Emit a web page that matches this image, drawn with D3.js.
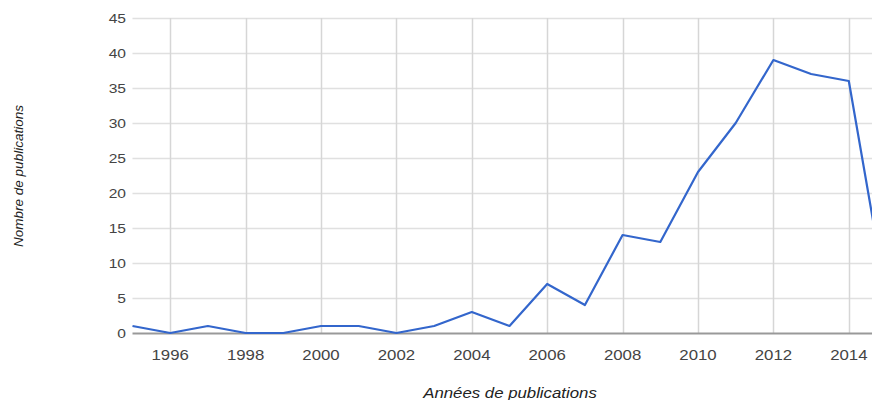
<!DOCTYPE html>
<html>
<head>
<meta charset="utf-8">
<script src="https://cdn.jsdelivr.net/npm/d3@7"></script>
<style>
  body { margin: 0; background: #fff; }
  svg { display: block; font-family: Arial, "Liberation Sans", sans-serif; }
</style>
</head>
<body>
<div id="chart"></div>
<script>
var years = [1995, 1996, 1997, 1998, 1999, 2000, 2001, 2002, 2003, 2004, 2005,
             2006, 2007, 2008, 2009, 2010, 2011, 2012, 2013, 2014, 2015];
var publications = [1, 0, 1, 0, 0, 1, 1, 0, 1, 3, 1,
                    7, 4, 14, 13, 23, 30, 39, 37, 36, 5];
var xTicks = [1996, 1998, 2000, 2002, 2004, 2006, 2008, 2010, 2012, 2014];
var yTicks = [0, 5, 10, 15, 20, 25, 30, 35, 40, 45];

var w = 872, h = 400;
var stretch = 1.2; // the source image is a bit wider than tall

// plot runs past the right edge, like the cropped original
var x = d3.scaleLinear().domain([1995, 2015]).range([132.5, 886.5]);
var y = d3.scaleLinear().domain([0, 45]).range([333, 18]);

var svg = d3.select("#chart")
  .append("svg")
  .attr("width", w)
  .attr("height", h)

// horizontal grid
svg.append("g")
  .selectAll("line")
  .data(yTicks.filter(function(d) { return d > 0; }))
  .join("line")
  .attr("x1", x(1995))
  .attr("x2", w)
  .attr("y1", function(d) { return Math.round(y(d)) + 0.5; })
  .attr("y2", function(d) { return Math.round(y(d)) + 0.5; })
  .attr("stroke", "#e0e0e0")
  .attr("stroke-width", 1.5)

// vertical grid
svg.append("g")
  .selectAll("line")
  .data(xTicks)
  .join("line")
  .attr("x1", function(d) { return Math.round(x(d)) + 0.5; })
  .attr("x2", function(d) { return Math.round(x(d)) + 0.5; })
  .attr("y1", y(45))
  .attr("y2", y(0))
  .attr("stroke", "#d6d6d6")
  .attr("stroke-width", 1.5)

// baseline
svg.append("line")
  .attr("x1", x(1995))
  .attr("x2", w)
  .attr("y1", y(0) + 0.5)
  .attr("y2", y(0) + 0.5)
  .attr("stroke", "#999")
  .attr("stroke-width", 2)

// y tick labels
svg.append("g")
  .selectAll("text")
  .data(yTicks)
  .join("text")
  .attr("transform", function(d) { return "translate(126," + y(d) + ") scale(" + stretch + ",1)"; })
  .attr("dy", "0.35em")
  .attr("text-anchor", "end")
  .attr("font-size", 13)
  .attr("fill", "#444")
  .text(function(d) { return d; })

// x tick labels
svg.append("g")
  .selectAll("text")
  .data(xTicks)
  .join("text")
  .attr("transform", function(d) { return "translate(" + x(d) + ",355) scale(" + stretch + ",1)"; })
  .attr("dy", "0.35em")
  .attr("text-anchor", "middle")
  .attr("font-size", 14)
  .attr("fill", "#444")
  .text(function(d) { return d; })

var line = d3.line()
  .x(function(d, i) { return x(years[i]); })
  .y(function(d) { return y(d); })

svg.append("path")
  .datum(publications)
  .attr("d", line)
  .attr("fill", "none")
  .attr("stroke", "#3366cc")
  .attr("stroke-width", 2.2)
  .attr("stroke-linejoin", "round")

// axis titles
svg.append("text")
  .attr("transform", "translate(510,393) scale(" + stretch + ",1)")
  .attr("dy", "0.35em")
  .attr("text-anchor", "middle")
  .attr("font-size", 14)
  .attr("font-style", "italic")
  .attr("fill", "#222")
  .text("Années de publications")

svg.append("text")
  .attr("transform", "translate(18,176) rotate(-90)")
  .attr("dy", "0.35em")
  .attr("text-anchor", "middle")
  .attr("font-size", 13.5)
  .attr("font-style", "italic")
  .attr("fill", "#222")
  .text("Nombre de publications")
</script>
</body>
</html>
